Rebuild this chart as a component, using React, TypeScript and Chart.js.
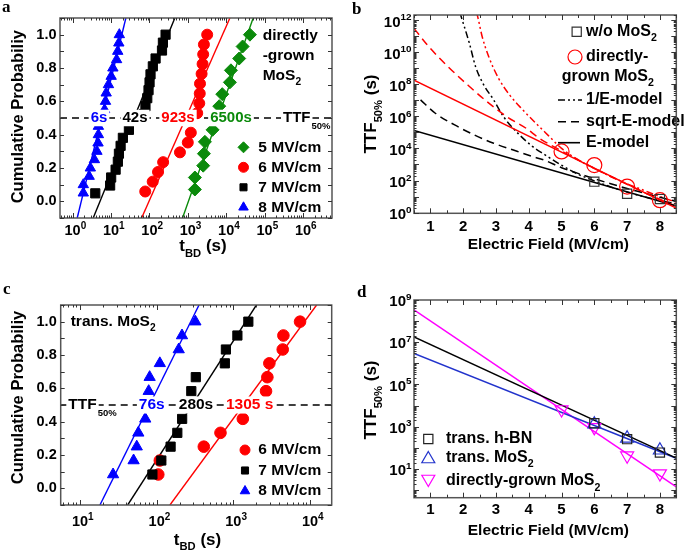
import React, { useEffect, useRef } from 'react';
import { Chart, registerables } from 'chart.js';
Chart.register(...registerables);

// ---------------- data: panel a (directly-grown MoS2) ----------------
const A5_T = [1530, 1530, 2520, 2630, 2790, 4420, 6600, 7900, 12500, 13300, 21800, 26800, 41500];
const A5_P = [0.071, 0.143, 0.214, 0.286, 0.357, 0.429, 0.571, 0.643, 0.714, 0.786, 0.857, 0.929, 1.0];
const A6_T = [78, 122, 168, 228, 625, 1000, 1200, 1760, 1990, 2050, 2080, 2290, 2430, 2520, 2630, 3200];
const A6_P = [0.059, 0.118, 0.176, 0.235, 0.294, 0.353, 0.412, 0.529, 0.588, 0.647, 0.706, 0.765, 0.824, 0.882, 0.941, 1.0];
const A7_T = [3.9, 9.5, 10.1, 13.2, 15.1, 16.1, 17.8, 20.4, 29.3, 72, 79, 88, 95, 101, 107, 123, 145, 213, 225, 264];
const A7_P = [0.048, 0.095, 0.143, 0.19, 0.238, 0.286, 0.333, 0.381, 0.429, 0.524, 0.571, 0.619, 0.667, 0.714, 0.762, 0.81, 0.857, 0.905, 0.952, 1.0];
const A8_T = [1.9, 1.9, 2.7, 2.9, 3.7, 4.3, 4.6, 4.7, 4.7, 6.8, 7.2, 7.5, 8.6, 10.1, 11.2, 14, 15, 16, 16.5];
const A8_P = [0.05, 0.1, 0.15, 0.2, 0.25, 0.3, 0.35, 0.4, 0.45, 0.55, 0.6, 0.65, 0.7, 0.75, 0.8, 0.85, 0.9, 0.95, 1.0];
const FIT_P = [-0.1, 1.1];
const A5_FIT = [730, 50500];
const A6_FIT = [62.8, 12500];
const A7_FIT = [3.44, 460];
const A8_FIT = [1.32, 24.4];
const TTF_P = 0.5;
const A_LEGEND = ['5 MV/cm', '6 MV/cm', '7 MV/cm', '8 MV/cm'];
const A_TTF_TXT = ['6500s', '923s', '42s', '6s'];
const PROB_TICKS = [0, 0.2, 0.4, 0.6, 0.8, 1.0];

// ---------------- data: panel c (transferred MoS2) ----------------
const C6_T = [105, 110, 412, 680, 1330, 2670, 2780, 2950, 4410, 4500, 7420];
const C6_P = [0.083, 0.167, 0.25, 0.333, 0.417, 0.583, 0.667, 0.75, 0.833, 0.917, 1.0];
const C7_T = [88, 115, 152, 186, 215, 283, 324, 775, 800, 1130, 1570];
const C7_P = [0.083, 0.167, 0.25, 0.333, 0.417, 0.583, 0.667, 0.75, 0.833, 0.917, 1.0];
const C8_T = [27, 50, 55, 57.6, 71, 78.7, 81, 110, 194, 214, 320];
const C8_P = [0.083, 0.167, 0.25, 0.333, 0.417, 0.583, 0.667, 0.75, 0.833, 0.917, 1.0];
const C6_FIT = [149, 12200];
const C7_FIT = [41.9, 2000];
const C8_FIT = [18.2, 357];
const C_LEGEND = ['6 MV/cm', '7 MV/cm', '8 MV/cm'];
const C_TTF_TXT = ['1305 s', '280s', '76s'];

// ---------------- data: panel b (lifetime models) ----------------
const B_WO_E = [6, 7, 8];
const B_WO = [85, 15, 7];
const B_MOS_E = [5, 6, 7, 8];
const B_MOS = [6500, 923, 42, 6];
const B_LINE_E = [0.5, 8.5];
const B_EMOD_WO = [1.3e5, 2.6];
const B_EMOD_MOS = [1.8e8, 1.9];
const B_SQRT_WO_E = [0.7, 1.15, 1.74, 2.34, 2.93, 3.53, 4.12, 4.46, 5, 5.5, 6, 6.5, 7, 7.5, 8, 8.5];
const B_SQRT_WO = [1.05e7, 1.55e6, 2.9e5, 6.9e4, 2.1e4, 7.9e3, 3.1e3, 1.9e3, 630, 280, 130, 63, 32, 17, 9, 5];
const B_SQRT_MOS_E = [0.5, 0.95, 1.54, 2.14, 2.73, 3.33, 3.92, 4.32, 5, 5.5, 6, 6.5, 7, 7.5, 8, 8.5];
const B_SQRT_MOS = [3.0e11, 2.2e10, 1.23e9, 8.9e7, 8.1e6, 9.5e5, 1.8e5, 4.3e4, 7000, 1950, 575, 178, 58, 19, 6.8, 2.5];
const B_INV_WO_E = [1.9, 1.94, 2.19, 2.38, 2.63, 2.93, 3.23, 3.72, 4.12, 4.42, 5, 5.5, 6, 6.5, 7, 7.5, 8, 8.5];
const B_INV_WO = [3e12, 1.6e12, 3.5e10, 1.2e9, 8.9e7, 1.05e7, 9.5e5, 6.9e4, 1.3e4, 5e3, 900, 250, 95, 40, 19, 10, 5.8, 3.5];
const B_INV_MOS_E = [2.4, 2.43, 2.58, 2.78, 3.08, 3.42, 3.82, 4.27, 4.6, 5, 5.5, 6, 6.5, 7, 7.5, 8, 8.5];
const B_INV_MOS = [3e12, 2e12, 9.1e10, 5.1e9, 2.3e8, 2.1e7, 2.5e6, 2.9e5, 6.3e4, 1e4, 2000, 560, 178, 63, 25, 10, 4.5];
const B_X_TICKS = [1, 2, 3, 4, 5, 6, 7, 8];
const B_Y_EXP = [0, 2, 4, 6, 8, 10, 12];

// ---------------- data: panel d (comparison) ----------------
const D_LINE_E = [0.5, 8.5];
const D_HBN_LINE = [1.8e7, 32];
const D_MOS_LINE = [2.9e6, 32];
const D_DG_LINE = [3.4e8, 1.4];
const D_HBN_E = [6, 7, 8];
const D_HBN = [1450, 255, 59];
const D_MOS_E = [6, 7, 8];
const D_MOS = [1305, 280, 76];
const D_DG_E = [5, 6, 7, 8];
const D_DG = [6500, 923, 42, 6];
const D_Y_EXP = [1, 3, 5, 7, 9];

// ---------------- styling helpers ----------------
const FONT = '"Liberation Sans", Arial, Helvetica, sans-serif';
const SERIF = '"Liberation Serif", "Times New Roman", serif';
const BLUE = '#0000ff';
const RED = '#ff0000';
const GREEN = '#0b8a0b';
const MAGENTA = '#ff00ff';
const DBLUE = '#2233cc';

type Seg = { t: string; k: number };
const N = (t: string): Seg => ({ t, k: 0 });
const SUB = (t: string): Seg => ({ t, k: 1 });
const SUP = (t: string): Seg => ({ t, k: 2 });

function fontOf(size: number, k: number) {
  return `bold ${k ? (size * 0.66).toFixed(1) : size}px ${FONT}`;
}
function richWidth(ctx: CanvasRenderingContext2D, segs: Seg[], size: number) {
  let w = 0;
  for (const s of segs) {
    ctx.font = fontOf(size, s.k);
    w += ctx.measureText(s.t).width;
  }
  return w;
}
function drawRich(ctx: CanvasRenderingContext2D, segs: Seg[], x: number, y: number, size: number, color: string, align = 'left', bg = false) {
  const w = richWidth(ctx, segs, size);
  let sx = align === 'center' ? x - w / 2 : align === 'right' ? x - w : x;
  if (bg) {
    ctx.fillStyle = '#fff';
    ctx.fillRect(sx - 2, y - size * 0.55, w + 4, size * 1.1);
  }
  ctx.textAlign = 'left';
  ctx.textBaseline = 'middle';
  ctx.fillStyle = color;
  for (const s of segs) {
    ctx.font = fontOf(size, s.k);
    const dy = s.k === 1 ? size * 0.42 : s.k === 2 ? -size * 0.33 : 0;
    ctx.fillText(s.t, sx, y + dy);
    sx += ctx.measureText(s.t).width;
  }
  return sx;
}
function drawRot(ctx: CanvasRenderingContext2D, segs: Seg[], x: number, y: number, size: number) {
  ctx.save();
  ctx.translate(x, y);
  ctx.rotate(-Math.PI / 2);
  drawRich(ctx, segs, 0, 0, size, '#000', 'center');
  ctx.restore();
}
function letter(ctx: CanvasRenderingContext2D, t: string, x: number, y: number) {
  ctx.font = `bold 17px ${SERIF}`;
  ctx.fillStyle = '#000';
  ctx.textAlign = 'left';
  ctx.textBaseline = 'alphabetic';
  ctx.fillText(t, x, y);
}
function marker(ctx: CanvasRenderingContext2D, style: string, x: number, y: number, r: number, color: string, hollow = false, rot = 0) {
  ctx.beginPath();
  if (style === 'circle') ctx.arc(x, y, r, 0, Math.PI * 2);
  else if (style === 'rect') {
    const s = Math.SQRT1_2 * r;
    ctx.rect(x - s, y - s, 2 * s, 2 * s);
  } else if (style === 'rectRot') {
    ctx.moveTo(x - r, y);
    ctx.lineTo(x, y - r);
    ctx.lineTo(x + r, y);
    ctx.lineTo(x, y + r);
    ctx.closePath();
  } else {
    let a = (rot * Math.PI) / 180;
    ctx.moveTo(x + Math.sin(a) * r, y - Math.cos(a) * r);
    a += (2 * Math.PI) / 3;
    ctx.lineTo(x + Math.sin(a) * r, y - Math.cos(a) * r);
    a += (2 * Math.PI) / 3;
    ctx.lineTo(x + Math.sin(a) * r, y - Math.cos(a) * r);
    ctx.closePath();
  }
  if (!hollow) {
    ctx.fillStyle = color;
    ctx.fill();
  }
  ctx.strokeStyle = color;
  ctx.lineWidth = hollow ? 1.2 : 1;
  ctx.setLineDash([]);
  ctx.stroke();
}
function sampleLine(ctx: CanvasRenderingContext2D, x0: number, x1: number, y: number, dash: number[]) {
  ctx.beginPath();
  ctx.setLineDash(dash);
  ctx.strokeStyle = '#000';
  ctx.lineWidth = 1.6;
  ctx.moveTo(x0, y);
  ctx.lineTo(x1, y);
  ctx.stroke();
  ctx.setLineDash([]);
}

const pts = (xs: number[], ys: number[]) => xs.map((x, i) => ({ x, y: ys[i] }));
function marks(xs: number[], ys: number[], style: string, color: string, r: number, hollow = false, rot = 0) {
  return {
    data: pts(xs, ys), showLine: false, pointStyle: style, pointRadius: r, pointRotation: rot,
    pointBackgroundColor: hollow ? 'rgba(0,0,0,0)' : color, pointBorderColor: color,
    pointBorderWidth: hollow ? 1.2 : 1,
  };
}
function curve(xs: number[], ys: number[], color: string, width: number, dash: number[] = [], smooth = false) {
  return {
    data: pts(xs, ys), showLine: true, pointRadius: 0, borderColor: color, borderWidth: width,
    borderDash: dash, tension: 0, cubicInterpolationMode: smooth ? 'monotone' : 'default', fill: false,
  };
}

// tick helpers (positions only)
function decades(min: number, max: number) {
  const out: number[] = [];
  for (let e = Math.floor(Math.log10(min)); e <= Math.ceil(Math.log10(max)); e++) {
    const v = Math.pow(10, e);
    if (v >= min && v <= max) out.push(v);
  }
  return out;
}
function logMinor(min: number, max: number) {
  const out: number[] = [];
  for (let e = Math.floor(Math.log10(min)); e <= Math.ceil(Math.log10(max)); e++) {
    for (let k = 2; k <= 9; k++) {
      const v = k * Math.pow(10, e);
      if (v >= min && v <= max) out.push(v);
    }
  }
  return out;
}
function steps(a: number, b: number, s: number) {
  const out: number[] = [];
  for (let v = a; v <= b + 1e-9; v += s) out.push(+v.toFixed(6));
  return out;
}

interface G {
  ctx: CanvasRenderingContext2D; L: number; R: number; T: number; B: number;
  X: (v: number) => number; Y: (v: number) => number;
}
function frame(g: G) {
  const { ctx } = g;
  ctx.setLineDash([]);
  ctx.strokeStyle = '#555';
  ctx.lineWidth = 1.5;
  ctx.strokeRect(g.L, g.T, g.R - g.L, g.B - g.T);
}
function xTicks(g: G, vals: number[], len: number) {
  const { ctx } = g;
  ctx.beginPath();
  ctx.strokeStyle = '#333';
  ctx.lineWidth = 1;
  for (const v of vals) {
    const p = Math.round(g.X(v)) + 0.5;
    if (p < g.L - 0.6 || p > g.R + 0.6) continue;
    ctx.moveTo(p, g.B); ctx.lineTo(p, g.B - len);
    ctx.moveTo(p, g.T); ctx.lineTo(p, g.T + len);
  }
  ctx.stroke();
}
function yTicks(g: G, vals: number[], len: number) {
  const { ctx } = g;
  ctx.beginPath();
  ctx.strokeStyle = '#333';
  ctx.lineWidth = 1;
  for (const v of vals) {
    const p = Math.round(g.Y(v)) + 0.5;
    if (p < g.T - 0.6 || p > g.B + 0.6) continue;
    ctx.moveTo(g.L, p); ctx.lineTo(g.L + len, p);
    ctx.moveTo(g.R, p); ctx.lineTo(g.R - len, p);
  }
  ctx.stroke();
}

interface PanelCfg {
  ox: number; oy: number; w: number; h: number; area: number[];
  xType: string; xRange: number[]; yType: string; yRange: number[];
  datasets: any[]; decor: (g: G) => void;
}

const ttfLine = (range: number[]) => curve(range, [TTF_P, TTF_P], '#000', 1.5, [7, 5]);

// ---------------- panel a ----------------
const A_X = [0.47, 5.7e6];
const A_Y = [-0.1, 1.1];
const PANEL_A: PanelCfg = {
  ox: 0, oy: 0, w: 340, h: 275, area: [60, 18, 332, 218],
  xType: 'logarithmic', xRange: A_X, yType: 'linear', yRange: A_Y,
  datasets: [
    marks(A8_T, A8_P, 'triangle', BLUE, 6),
    marks(A7_T, A7_P, 'rect', '#000', 6.5),
    marks(A6_T, A6_P, 'circle', RED, 5.5),
    marks(A5_T, A5_P, 'rectRot', GREEN, 6.5),
    curve(A8_FIT, FIT_P, BLUE, 1.4),
    curve(A7_FIT, FIT_P, '#000', 1.4),
    curve(A6_FIT, FIT_P, RED, 1.4),
    curve(A5_FIT, FIT_P, GREEN, 1.4),
    ttfLine(A_X),
  ],
  decor: (g) => {
    const { ctx } = g;
    const yT = g.Y(TTF_P);
    drawRich(ctx, [N(A_TTF_TXT[3])], 99, yT, 15, BLUE, 'center', true);
    drawRich(ctx, [N(A_TTF_TXT[2])], 135, yT, 15, '#000', 'center', true);
    drawRich(ctx, [N(A_TTF_TXT[1])], 178, yT, 15, RED, 'center', true);
    drawRich(ctx, [N(A_TTF_TXT[0])], 231, yT, 15, GREEN, 'center', true);
    const ex = drawRich(ctx, [N('TTF')], 283, yT, 15, '#000', 'left', true);
    drawRich(ctx, [N('50%')], ex + 1, yT + 8.5, 9.5, '#000');
    drawRich(ctx, [N('directly')], 262.7, 35.7, 15.5, '#000');
    drawRich(ctx, [N('-grown')], 262.7, 55.7, 15.5, '#000');
    drawRich(ctx, [N('MoS'), SUB('2')], 262.7, 75.7, 15.5, '#000');
    const styles = ['rectRot', 'circle', 'rect', 'triangle'];
    const cols = [GREEN, RED, '#000', BLUE];
    const rs = [5.5, 5, 5, 5.5];
    const rows = [147.3, 167.3, 187.3, 207.3];
    for (let i = 0; i < 4; i++) {
      marker(ctx, styles[i], 243.5, rows[i], rs[i], cols[i]);
      drawRich(ctx, [N(A_LEGEND[i])], 258.3, rows[i], 15.5, '#000');
    }
    frame(g);
    yTicks(g, steps(-0.1, 1.1, 0.1), 4);
    xTicks(g, decades(A_X[0], A_X[1]), 5);
    xTicks(g, logMinor(A_X[0], A_X[1]), 2.5);
    for (const v of PROB_TICKS) drawRich(ctx, [N(v.toFixed(1))], g.L - 3.5, g.Y(v), 14.5, '#000', 'right');
    for (const v of decades(A_X[0], A_X[1])) {
      const e = Math.round(Math.log10(v));
      const ex2 = drawRich(ctx, [N('10')], g.X(v), g.B + 12.5, 14.5, '#000', 'center');
      drawRich(ctx, [N(String(e))], ex2, g.B + 8, 10, '#000');
    }
    drawRich(ctx, [N('t'), SUB('BD'), N(' (s)')], 203, 246.7, 17, '#000', 'center');
    drawRot(ctx, [N('Cumulative Probabiliy')], 18.3, 116.7, 16.5);
    letter(ctx, 'a', 2, 12);
  },
};

// ---------------- panel c ----------------
const C_X = [5.6, 19200];
const C_Y = [-0.1, 1.1];
const PANEL_C: PanelCfg = {
  ox: 0, oy: 275, w: 340, h: 275, area: [60.7, 305, 331.7, 505],
  xType: 'logarithmic', xRange: C_X, yType: 'linear', yRange: C_Y,
  datasets: [
    marks(C8_T, C8_P, 'triangle', BLUE, 6.5),
    marks(C7_T, C7_P, 'rect', '#000', 6.5),
    marks(C6_T, C6_P, 'circle', RED, 5.8),
    curve(C8_FIT, FIT_P, BLUE, 1.4),
    curve(C7_FIT, FIT_P, '#000', 1.4),
    curve(C6_FIT, FIT_P, RED, 1.4),
    ttfLine(C_X),
  ],
  decor: (g) => {
    const { ctx } = g;
    const yT = g.Y(TTF_P);
    const ex = drawRich(ctx, [N('TTF')], 68.3, yT, 15.5, '#000', 'left', true);
    drawRich(ctx, [N('50%')], ex + 1, yT + 8.5, 9.5, '#000');
    drawRich(ctx, [N(C_TTF_TXT[2])], 151.8, yT, 15.5, BLUE, 'center', true);
    drawRich(ctx, [N(C_TTF_TXT[1])], 196, yT, 15.5, '#000', 'center', true);
    drawRich(ctx, [N(C_TTF_TXT[0])], 249.7, yT, 15.5, RED, 'center', true);
    drawRich(ctx, [N('trans. MoS'), SUB('2')], 70.7, 321.7, 15.5, '#000');
    const styles = ['circle', 'rect', 'triangle'];
    const cols = [RED, '#000', BLUE];
    const rs = [5, 5, 5.5];
    const rows = [450, 470.5, 491];
    for (let i = 0; i < 3; i++) {
      marker(ctx, styles[i], 245, rows[i], rs[i], cols[i]);
      drawRich(ctx, [N(C_LEGEND[i])], 258.3, rows[i], 15.5, '#000');
    }
    frame(g);
    yTicks(g, steps(-0.1, 1.1, 0.1), 4);
    xTicks(g, decades(C_X[0], C_X[1]), 5);
    xTicks(g, logMinor(C_X[0], C_X[1]), 2.5);
    for (const v of PROB_TICKS) drawRich(ctx, [N(v.toFixed(1))], g.L - 4, g.Y(v), 14.5, '#000', 'right');
    for (const v of decades(C_X[0], C_X[1])) {
      const e = Math.round(Math.log10(v));
      const ex2 = drawRich(ctx, [N('10')], g.X(v), g.B + 16.7, 14.5, '#000', 'center');
      drawRich(ctx, [N(String(e))], ex2, g.B + 12, 10, '#000');
    }
    drawRich(ctx, [N('t'), SUB('BD'), N(' (s)')], 197.5, 540, 17, '#000', 'center');
    drawRot(ctx, [N('Cumulative Probabiliy')], 18.3, 397.5, 16.5);
    letter(ctx, 'c', 3, 293.5);
  },
};

// ---------------- panel b ----------------
const B_X = [0.5, 8.5];
const B_Y = [0.91, 2.05e12];
const DASHDOT = [7, 3, 2, 3, 2, 3];
const DASH = [8, 5];
const PANEL_B: PanelCfg = {
  ox: 340, oy: 0, w: 345, h: 275, area: [414, 15, 683.3, 213.3],
  xType: 'linear', xRange: B_X, yType: 'logarithmic', yRange: B_Y,
  datasets: [
    marks(B_WO_E, B_WO, 'rect', '#333', 6.5, true),
    marks(B_MOS_E, B_MOS, 'circle', RED, 7.5, true),
    curve(B_LINE_E, B_EMOD_MOS, RED, 1.5),
    curve(B_LINE_E, B_EMOD_WO, '#000', 1.5),
    curve(B_SQRT_MOS_E, B_SQRT_MOS, RED, 1.5, DASH, true),
    curve(B_SQRT_WO_E, B_SQRT_WO, '#000', 1.5, DASH, true),
    curve(B_INV_MOS_E, B_INV_MOS, RED, 1.5, DASHDOT, true),
    curve(B_INV_WO_E, B_INV_WO, '#000', 1.5, DASHDOT, true),
  ],
  decor: (g) => {
    const { ctx } = g;
    marker(ctx, 'rect', 576.7, 31.7, 6.5, '#333', true);
    drawRich(ctx, [N('w/o MoS'), SUB('2')], 586, 31.7, 16, '#000');
    marker(ctx, 'circle', 575, 57, 7, RED, true);
    drawRich(ctx, [N('directly-')], 586, 56.5, 16, '#000');
    drawRich(ctx, [N('grown MoS'), SUB('2')], 561.7, 76.5, 16, '#000');
    sampleLine(ctx, 558, 582, 100, DASHDOT);
    drawRich(ctx, [N('1/E-model')], 586, 100, 16, '#000');
    sampleLine(ctx, 558, 582, 121.7, DASH);
    drawRich(ctx, [N('sqrt-E-model')], 586, 121.7, 16, '#000');
    sampleLine(ctx, 558, 580, 142.7, []);
    drawRich(ctx, [N('E-model')], 586, 142.7, 16, '#000');
    frame(g);
    xTicks(g, B_X_TICKS, 5);
    xTicks(g, steps(0.5, 8.5, 1), 3);
    yTicks(g, decades(B_Y[0], B_Y[1]), 5);
    yTicks(g, logMinor(B_Y[0], B_Y[1]), 2.5);
    for (const v of B_X_TICKS) drawRich(ctx, [N(String(v))], g.X(v), g.B + 13.7, 15, '#000', 'center');
    for (const e of B_Y_EXP) {
      const y = g.Y(Math.pow(10, e));
      drawRich(ctx, [N('10'), SUP(String(e))], g.L - 2.5, y + 2.5, 15, '#000', 'right');
    }
    drawRich(ctx, [N('Electric Field (MV/cm)')], 548.3, 244.5, 15.5, '#000', 'center');
    drawRot(ctx, [N('TTF'), SUB('50%'), N(' (s)')], 371.7, 114, 17);
    letter(ctx, 'b', 352, 13.5);
  },
};

// ---------------- panel d ----------------
const D_X = [0.5, 8.5];
const D_Y = [0.43, 1e9];
const PANEL_D: PanelCfg = {
  ox: 340, oy: 275, w: 345, h: 275, area: [414, 300, 683.3, 497.7],
  xType: 'linear', xRange: D_X, yType: 'logarithmic', yRange: D_Y,
  datasets: [
    marks(D_HBN_E, D_HBN, 'rect', '#222', 6.5, true),
    marks(D_MOS_E, D_MOS, 'triangle', DBLUE, 7.5, true),
    marks(D_DG_E, D_DG, 'triangle', MAGENTA, 7.5, true, 180),
    curve(D_LINE_E, D_HBN_LINE, '#000', 1.5),
    curve(D_LINE_E, D_MOS_LINE, DBLUE, 1.5),
    curve(D_LINE_E, D_DG_LINE, MAGENTA, 1.5),
  ],
  decor: (g) => {
    const { ctx } = g;
    marker(ctx, 'rect', 428.3, 439, 6.5, '#222', true);
    drawRich(ctx, [N('trans. h-BN')], 446, 439, 16, '#000');
    marker(ctx, 'triangle', 428.3, 459, 7.5, DBLUE, true);
    drawRich(ctx, [N('trans. MoS'), SUB('2')], 446, 457.5, 16, '#000');
    marker(ctx, 'triangle', 428.3, 479, 7.5, MAGENTA, true, 180);
    drawRich(ctx, [N('directly-grown MoS'), SUB('2')], 446, 481, 16, '#000');
    frame(g);
    xTicks(g, B_X_TICKS, 5);
    xTicks(g, steps(0.5, 8.5, 1), 3);
    yTicks(g, decades(D_Y[0], D_Y[1]), 5);
    yTicks(g, logMinor(D_Y[0], D_Y[1]), 2.5);
    for (const v of B_X_TICKS) drawRich(ctx, [N(String(v))], g.X(v), g.B + 12.3, 15, '#000', 'center');
    for (const e of D_Y_EXP) {
      const y = g.Y(Math.pow(10, e));
      drawRich(ctx, [N('10'), SUP(String(e))], g.L - 2.5, y + 2, 15, '#000', 'right');
    }
    drawRich(ctx, [N('Electric Field (MV/cm)')], 548.3, 530.5, 15.5, '#000', 'center');
    drawRot(ctx, [N('TTF'), SUB('50%'), N(' (s)')], 371.7, 400, 17);
    letter(ctx, 'd', 357, 296.5);
  },
};

function Panel({ cfg }: { cfg: PanelCfg }) {
  const ref = useRef<HTMLCanvasElement | null>(null);
  useEffect(() => {
    const canvas = ref.current;
    if (!canvas) return;
    const decorPlugin = {
      id: 'decor',
      afterDraw(chart: any) {
        const ctx = chart.ctx as CanvasRenderingContext2D;
        const a = chart.chartArea;
        const xs = chart.scales.x;
        const ys = chart.scales.y;
        const g: G = {
          ctx,
          L: a.left + cfg.ox, R: a.right + cfg.ox, T: a.top + cfg.oy, B: a.bottom + cfg.oy,
          X: (v: number) => xs.getPixelForValue(v) + cfg.ox,
          Y: (v: number) => ys.getPixelForValue(v) + cfg.oy,
        };
        ctx.save();
        ctx.translate(-cfg.ox, -cfg.oy);
        cfg.decor(g);
        ctx.restore();
      },
    };
    const chart = new Chart(canvas, {
      type: 'scatter',
      data: { datasets: cfg.datasets },
      options: {
        responsive: false,
        animation: false,
        devicePixelRatio: 1,
        events: [],
        layout: {
          padding: {
            left: cfg.area[0] - cfg.ox,
            top: cfg.area[1] - cfg.oy,
            right: cfg.ox + cfg.w - cfg.area[2],
            bottom: cfg.oy + cfg.h - cfg.area[3],
          },
        },
        plugins: { legend: { display: false }, tooltip: { enabled: false } },
        scales: {
          x: { type: cfg.xType, min: cfg.xRange[0], max: cfg.xRange[1], display: false },
          y: { type: cfg.yType, min: cfg.yRange[0], max: cfg.yRange[1], display: false },
        },
      } as any,
      plugins: [decorPlugin],
    });
    return () => chart.destroy();
  }, [cfg]);
  return (
    <canvas
      ref={ref}
      width={cfg.w}
      height={cfg.h}
      style={{ position: 'absolute', left: cfg.ox, top: cfg.oy, width: cfg.w, height: cfg.h }}
    />
  );
}

export default function App() {
  return (
    <div style={{ position: 'absolute', left: 0, top: 0, width: 685, height: 550, background: '#fff', overflow: 'hidden' }}>
      <Panel cfg={PANEL_A} />
      <Panel cfg={PANEL_B} />
      <Panel cfg={PANEL_C} />
      <Panel cfg={PANEL_D} />
    </div>
  );
}
